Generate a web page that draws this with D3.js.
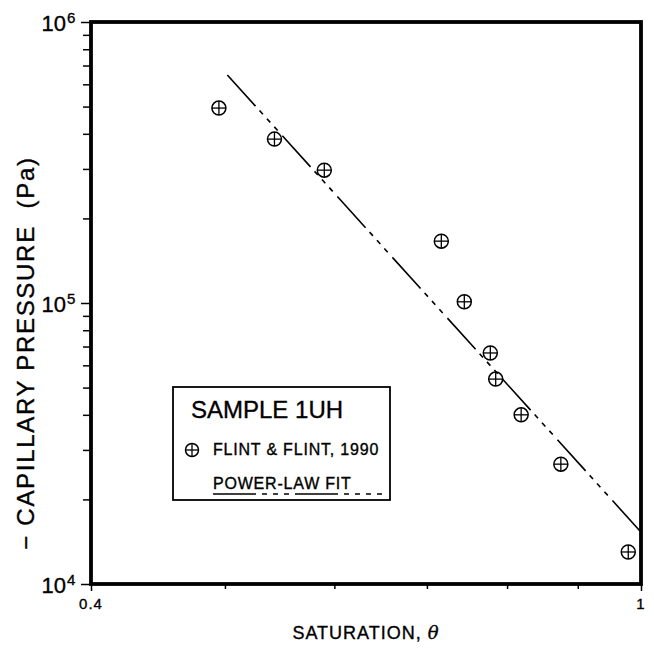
<!DOCTYPE html>
<html>
<head>
<meta charset="utf-8">
<script src="https://cdn.jsdelivr.net/npm/d3@7"></script>
<style>
  html, body { margin: 0; padding: 0; background: #fff; }
  svg { display: block; }
  text { font-family: "Liberation Sans", Arial, sans-serif; fill: #000; stroke: #000; stroke-width: 0.35px; }
</style>
</head>
<body>
<svg id="chart" width="654" height="649"></svg>
<script>
// ---- Data ----
const saturation = [0.495, 0.543, 0.590, 0.717, 0.745, 0.778, 0.785, 0.819, 0.875, 0.979];
const pressure   = [494000, 383000, 297000, 166000, 101000, 66400, 53600, 40000, 26700, 13000];
const fitTheta    = [0.502, 1.0];
const fitPressure = [648000, 15300];
const xMajorTicks = [0.4, 1];
const xMinorTicks = [0.5, 0.6, 0.7, 0.8, 0.9];
const yMajorTicks = [1e4, 1e5, 1e6];
const yMinorTicks = [2e4,3e4,4e4,5e4,6e4,7e4,8e4,9e4,2e5,3e5,4e5,5e5,6e5,7e5,8e5,9e5];
const xTickLabels = ["0.4", "1"];
const yTickExponents = ["4", "5", "6"];
const legendTitle = "SAMPLE 1UH";
const legendData = "FLINT & FLINT, 1990";
const legendFit = "POWER-LAW FIT";
const xTitle = "SATURATION, ";
const yTitle = "\u2212 CAPILLARY PRESSURE\u00a0\u00a0(Pa)";

// ---- Layout ----
const L = 91, R = 641, T = 22, B = 584;
const svg = d3.select("#chart");
const x = d3.scaleLog().domain([0.4, 1]).range([L, R]);
const y = d3.scaleLog().domain([1e4, 1e6]).range([B, T]);
const dashPattern = "42,6,5,6,5,6,5,7";

// ticks
function styleAxis(g) {
  g.select(".domain").remove();
  g.selectAll(".tick line").attr("stroke", "#000").attr("stroke-width", 1.5);
  g.selectAll(".tick text").remove();
}
svg.append("g").attr("transform", `translate(${L},0)`)
  .call(d3.axisLeft(y).tickValues(yMajorTicks).tickSize(10).tickFormat(""))
  .call(styleAxis);
svg.append("g").attr("transform", `translate(${L},0)`)
  .call(d3.axisLeft(y).tickValues(yMinorTicks).tickSize(8).tickFormat(""))
  .call(styleAxis);
svg.append("g").attr("transform", `translate(0,${B})`)
  .call(d3.axisBottom(x).tickValues(xMajorTicks).tickSize(7).tickFormat(""))
  .call(styleAxis);
svg.append("g").attr("transform", `translate(0,${B})`)
  .call(d3.axisBottom(x).tickValues(xMinorTicks).tickSize(5).tickFormat(""))
  .call(styleAxis);

// frame
svg.append("rect").attr("x", L).attr("y", T).attr("width", R - L).attr("height", B - T)
  .attr("fill", "none").attr("stroke", "#000").attr("stroke-width", 3.8);

// tick labels
xMajorTicks.forEach((v, i) => {
  svg.append("text").attr("x", x(v)).attr("y", B + 25)
    .attr("text-anchor", "middle").style("font-size", "15px").style("letter-spacing", "1px")
    .text(xTickLabels[i]);
});
yMajorTicks.forEach((v, i) => {
  svg.append("text").attr("x", 66).attr("y", y(v) + 9)
    .attr("text-anchor", "end").style("font-size", "22px").text("10");
  svg.append("text").attr("x", 67).attr("y", y(v) + 1)
    .attr("text-anchor", "start").style("font-size", "15px").text(yTickExponents[i]);
});

// axis titles
const xt = svg.append("text").attr("x", (L + R) / 2).attr("y", 639)
  .attr("text-anchor", "middle").style("font-size", "18px").style("letter-spacing", "1px");
xt.append("tspan").text(xTitle);
xt.append("tspan").style("font-style", "italic").style("font-family", "'DejaVu Serif', serif").text("\u03b8");

svg.append("text").attr("transform", "translate(34,353) rotate(-90)")
  .attr("text-anchor", "middle").style("font-size", "24px").style("letter-spacing", "1.7px")
  .text(yTitle);

// fit line
svg.append("path")
  .datum(fitTheta.map((t, i) => [t, fitPressure[i]]))
  .attr("d", d3.line().x(d => x(d[0])).y(d => y(d[1])))
  .attr("fill", "none").attr("stroke", "#000").attr("stroke-width", 1.6)
  .attr("stroke-dasharray", dashPattern);

// markers
function marker(g, cx, cy, r) {
  g.append("circle").attr("cx", cx).attr("cy", cy).attr("r", r)
    .attr("fill", "none").attr("stroke", "#000").attr("stroke-width", 1.5);
  g.append("line").attr("x1", cx - r).attr("x2", cx + r).attr("y1", cy).attr("y2", cy)
    .attr("stroke", "#000").attr("stroke-width", 1.3);
  g.append("line").attr("x1", cx).attr("x2", cx).attr("y1", cy - r).attr("y2", cy + r)
    .attr("stroke", "#000").attr("stroke-width", 1.3);
}
const pts = svg.append("g");
saturation.forEach((s, i) => marker(pts, x(s), y(pressure[i]), 7));

// legend
const lg = svg.append("g");
lg.append("rect").attr("x", 173).attr("y", 387).attr("width", 217).attr("height", 113)
  .attr("fill", "#fff").attr("stroke", "#000").attr("stroke-width", 1.8);
lg.append("text").attr("x", 191).attr("y", 418).style("font-size", "24px").text(legendTitle);
marker(lg, 192, 450, 6.5);
lg.append("text").attr("x", 213).attr("y", 455).style("font-size", "16px")
  .style("letter-spacing", "0.8px").text(legendData);
lg.append("text").attr("x", 213).attr("y", 489).style("font-size", "16px")
  .style("letter-spacing", "0.8px").text(legendFit);
lg.append("line").attr("x1", 213).attr("x2", 382).attr("y1", 494).attr("y2", 494)
  .attr("stroke", "#000").attr("stroke-width", 1.4).attr("stroke-dasharray", "43,6,5,6,5,6,5,6");
</script>
</body>
</html>
